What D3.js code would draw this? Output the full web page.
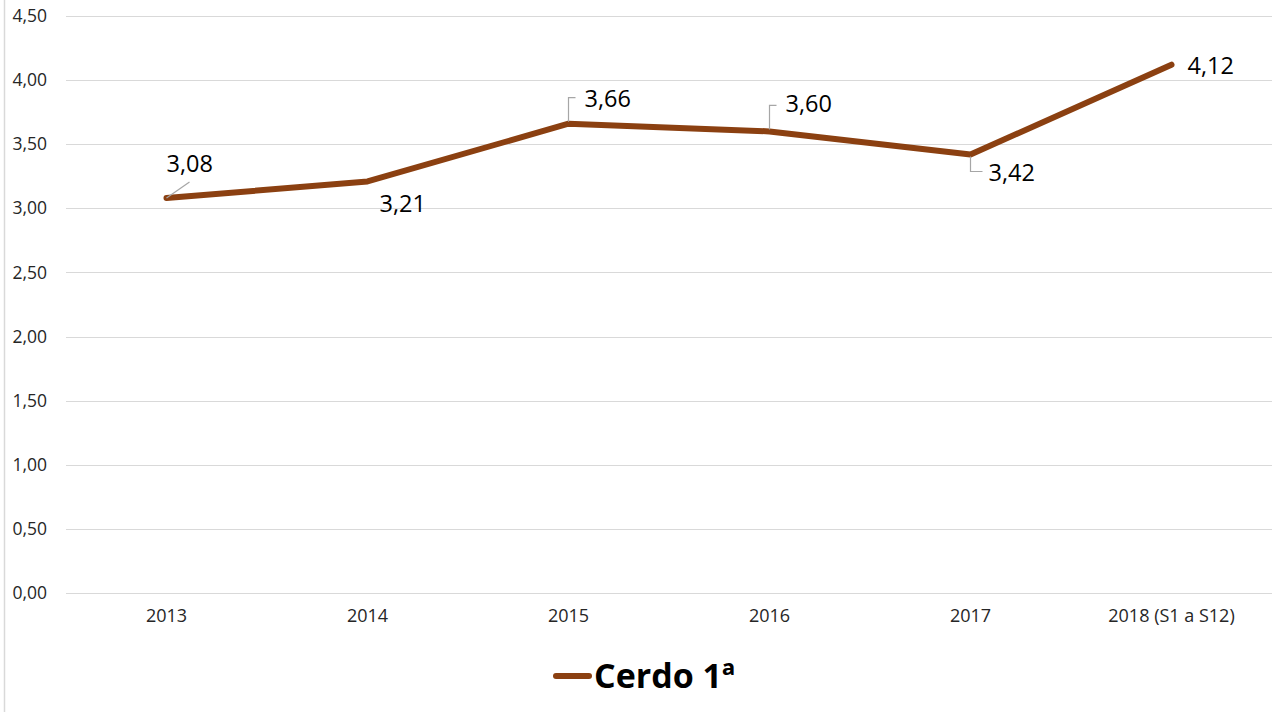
<!DOCTYPE html>
<html>
<head>
<meta charset="utf-8">
<script src="https://cdn.jsdelivr.net/npm/d3@7"></script>
<style>
  html, body { margin: 0; padding: 0; background: #fff; }
  svg { display: block; }
</style>
</head>
<body>
<svg id="chart" width="1279" height="712"></svg>
<script>
// ---- data ----
const categories = ["2013", "2014", "2015", "2016", "2017", "2018 (S1 a S12)"];
const values = [3.08, 3.21, 3.66, 3.60, 3.42, 4.12];
const seriesName = "Cerdo 1ª";
const yTicks = [0, 0.5, 1, 1.5, 2, 2.5, 3, 3.5, 4, 4.5];

// ---- label placement (layout, not data) ----
const labelLayout = [
  { dx: 0,  dy: -26, leader: "diag" },
  { dx: 12, dy: 31,  leader: "none" },
  { dx: 16, dy: -17, leader: "up" },
  { dx: 16, dy: -19, leader: "up" },
  { dx: 18, dy: 27,  leader: "down" },
  { dx: 16, dy: 9,   leader: "none" }
];

const color = "#8B4011";
const svg = d3.select("#chart");
const W = 1279, H = 712;
const margin = { left: 66, right: 7, top: 16, bottom: 119 };

const x = d3.scaleBand().domain(categories).range([margin.left, W - margin.right]).padding(0);
const y = d3.scaleLinear().domain([0, 4.5]).range([H - margin.bottom, margin.top]);

// left border line
svg.append("line")
  .attr("x1", 4.5).attr("x2", 4.5).attr("y1", 0).attr("y2", H)
  .attr("stroke", "#d9d9d9").attr("stroke-width", 1.5);

// gridlines
svg.append("g").selectAll("line").data(yTicks).join("line")
  .attr("x1", margin.left).attr("x2", W - margin.right)
  .attr("y1", d => Math.round(y(d)) + 0.5).attr("y2", d => Math.round(y(d)) + 0.5)
  .attr("stroke", "#d9d9d9").attr("stroke-width", 1.2);

// y axis labels
const fmt = d => d.toFixed(2).replace(".", ",");
const yAxis = d3.axisLeft(y).tickValues(yTicks).tickFormat(fmt).tickSize(0).tickPadding(0);
const gy = svg.append("g").attr("transform", `translate(47,0)`).call(yAxis);
gy.select(".domain").remove();
gy.selectAll("text").attr("font-family", "'Open Sans', sans-serif").attr("font-size", 17.5).attr("fill", "#262626");

// x axis labels
const xAxis = d3.axisBottom(x).tickSize(0).tickPadding(0);
const gx = svg.append("g").attr("transform", `translate(0,${y(0) + 16})`).call(xAxis);
gx.select(".domain").remove();
gx.selectAll("text").attr("font-family", "'Open Sans', sans-serif").attr("font-size", 18).attr("fill", "#262626");

// line
const pts = categories.map((c, i) => ({ c, v: values[i], px: x(c) + x.bandwidth() / 2, py: y(values[i]) }));
const line = d3.line().x(d => d.px).y(d => d.py);
svg.append("path").datum(pts)
  .attr("d", line)
  .attr("fill", "none").attr("stroke", color).attr("stroke-width", 6)
  .attr("stroke-linejoin", "round").attr("stroke-linecap", "round");

// leader lines
const lg = svg.append("g").attr("stroke", "#a6a6a6").attr("stroke-width", 1.2).attr("fill", "none");
pts.forEach((p, i) => {
  const L = labelLayout[i];
  if (L.leader === "diag") {
    lg.append("line").attr("x1", p.px).attr("y1", p.py).attr("x2", p.px + 23).attr("y2", p.py - 16);
  } else if (L.leader === "up") {
    lg.append("path").attr("d", `M${p.px},${p.py - 2}V${p.py - 26}h7`);
  } else if (L.leader === "down") {
    lg.append("path").attr("d", `M${p.px},${p.py + 2}V${p.py + 17}h12`);
  }
});

// data labels
svg.append("g").selectAll("text").data(pts).join("text")
  .attr("x", (d, i) => d.px + labelLayout[i].dx)
  .attr("y", (d, i) => d.py + labelLayout[i].dy)
  .attr("font-family", "'Open Sans', sans-serif").attr("font-size", 23.5)
  .attr("fill", "#000")
  .text(d => fmt(d.v));

// legend
const lgd = svg.append("g");
lgd.append("line").attr("x1", 556).attr("x2", 589).attr("y1", 676).attr("y2", 676)
  .attr("stroke", color).attr("stroke-width", 6).attr("stroke-linecap", "round");
lgd.append("text").attr("x", 594).attr("y", 688)
  .attr("font-family", "'Open Sans', sans-serif").attr("font-weight", "bold").attr("font-size", 34)
  .attr("fill", "#000").text(seriesName);
</script>
</body>
</html>
